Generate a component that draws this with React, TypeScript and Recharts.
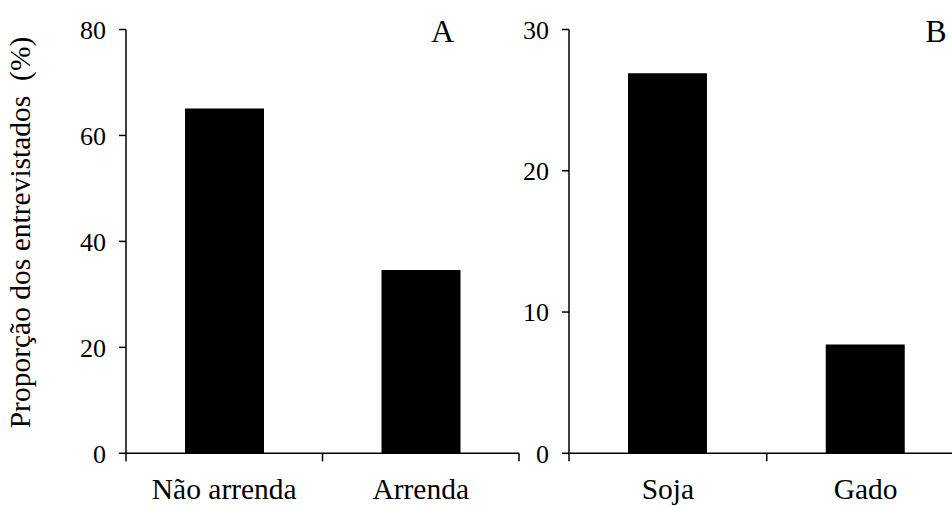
import React from 'react';
import { BarChart, Bar, XAxis, YAxis } from 'recharts';

const categoriesA = ['Não arrenda', 'Arrenda'];
const valuesA = [65.1, 34.6];
const ticksA = [0, 20, 40, 60, 80];

const categoriesB = ['Soja', 'Gado'];
const valuesB = [26.9, 7.7];
const ticksB = [0, 10, 20, 30];

const yTitle = 'Proporção dos entrevistados\u00a0\u00a0(%)';

const dataA = categoriesA.map((c, i) => ({ name: c, value: valuesA[i] }));
const dataB = categoriesB.map((c, i) => ({ name: c, value: valuesB[i] }));

const FONT = "'Liberation Serif', 'Times New Roman', Times, serif";
const TOP = 29.5;
const AXIS_Y = 453.3;
const H = 506;

function CatTick(props: any) {
  const { x, payload, index, halfBand, count } = props;
  return (
    <g>
      <line x1={x - halfBand} x2={x - halfBand} y1={AXIS_Y} y2={AXIS_Y + 8} stroke="#000" strokeWidth={1.5} />
      {index === count - 1 && (
        <line x1={x + halfBand} x2={x + halfBand} y1={AXIS_Y} y2={AXIS_Y + 8} stroke="#000" strokeWidth={1.5} />
      )}
      <text
        x={x}
        y={AXIS_Y + 46}
        textAnchor="middle"
        fontSize={29.5}
        fontFamily={FONT}
        fill="#000"
      >
        {payload.value}
      </text>
    </g>
  );
}

function Panel(props: {
  data: any[];
  ticks: number[];
  left: number;
  width: number;
  yAxisWidth: number;
  plotRight: number;
  letter: string;
  letterX: number;
  showTitle: boolean;
}) {
  const { data, ticks, left, width, yAxisWidth, plotRight, letter, letterX, showTitle } = props;
  const rightMargin = width - (plotRight - left);
  const plotWidth = plotRight - left - yAxisWidth;
  const halfBand = plotWidth / data.length / 2;
  const tickStyle = { fill: '#000', fontSize: 26, fontFamily: FONT };
  return (
    <div style={{ position: 'absolute', left, top: 0 }}>
      <BarChart
        width={width}
        height={H}
        data={data}
        margin={{ top: TOP, right: rightMargin, bottom: 0, left: 0 }}
        barCategoryGap="30%"
        style={{ overflow: 'visible' }}
      >
        <XAxis
          dataKey="name"
          height={H - AXIS_Y}
          axisLine={{ stroke: '#000', strokeWidth: 1.5 }}
          tickLine={false}
          interval={0}
          tick={(p: any) => <CatTick {...p} halfBand={halfBand} count={data.length} />}
        />
        <YAxis
          width={yAxisWidth}
          domain={[ticks[0], ticks[ticks.length - 1]]}
          ticks={ticks}
          interval={0}
          allowDataOverflow
          axisLine={{ stroke: '#000', strokeWidth: 1.5 }}
          tickLine={{ stroke: '#000', strokeWidth: 1.5 }}
          tickSize={7}
          tickMargin={13}
          tick={tickStyle}
          label={{
            content: () => (
              <g>
                {showTitle && (
                  <text
                    x={29.5}
                    y={232.5}
                    transform="rotate(-90, 29.5, 232.5)"
                    textAnchor="middle"
                    fontSize={29.5}
                    fontFamily={FONT}
                    fill="#000"
                  >
                    {yTitle}
                  </text>
                )}
                <text
                  x={letterX - left}
                  y={42}
                  textAnchor="middle"
                  fontSize={32}
                  fontFamily={FONT}
                  fill="#000"
                >
                  {letter}
                </text>
              </g>
            ),
          }}
        />
        <Bar dataKey="value" fill="#000" barSize={79} isAnimationActive={false} />
      </BarChart>
    </div>
  );
}

export default function App() {
  return (
    <div
      style={{
        position: 'absolute',
        left: 0,
        top: 0,
        width: 952,
        height: 506,
        overflow: 'hidden',
        background: '#fff',
      }}
    >
      <Panel
        data={dataA}
        ticks={ticksA}
        left={0}
        width={540}
        yAxisWidth={126}
        plotRight={519}
        letter="A"
        letterX={442.5}
        showTitle={true}
      />
      <Panel
        data={dataB}
        ticks={ticksB}
        left={500}
        width={470}
        yAxisWidth={69}
        plotRight={964.5}
        letter="B"
        letterX={936}
        showTitle={false}
      />
    </div>
  );
}
